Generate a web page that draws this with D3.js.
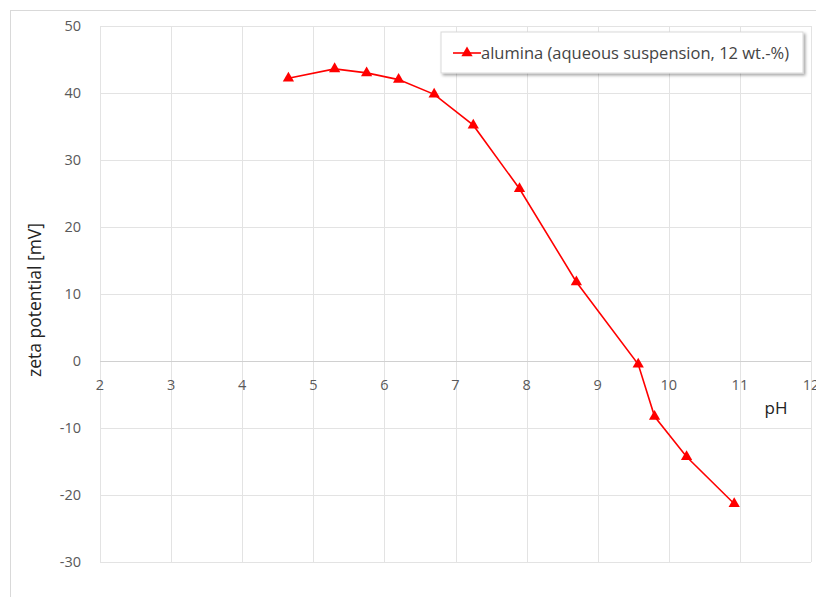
<!doctype html>
<html lang="en">
<head>
<meta charset="utf-8" />
<title>zeta potential of alumina</title>
<script src="https://d3js.org/d3.v7.min.js"></script>
<style>
  body { margin: 0; background: #fff; }
  text { font-family: "Open Sans", "Noto Sans", sans-serif; }
</style>
</head>
<body>
<svg></svg>
<script>
const pH   = [4.65, 5.3, 5.75, 6.2, 6.7, 7.25, 7.9, 8.7, 9.57, 9.8, 10.25, 10.92];
const zeta = [42.2, 43.6, 43.0, 42.0, 39.8, 35.2, 25.7, 11.8, -0.5, -8.3, -14.3, -21.3];
const xTicks = [2, 3, 4, 5, 6, 7, 8, 9, 10, 11, 12];
const yTicks = [-30, -20, -10, 0, 10, 20, 30, 40, 50];
const seriesName = "alumina (aqueous suspension, 12 wt.-%)";

let width = 816,
    height = 597;

const svg = d3.select("svg")
    .attr("width", width)
    .attr("height", height);

// chart frame
svg.append("rect")
    .attr("x", 10.5).attr("y", 10.5)
    .attr("width", width).attr("height", height)
    .attr("fill", "#fff")
    .attr("stroke", "#d9d9d9");

let x = d3.scaleLinear().domain([2, 12]).range([100, 811]);
let y = d3.scaleLinear().domain([-30, 50]).range([562, 26]);

const grid = svg.append("g");
grid.selectAll("line.v")
    .data(xTicks)
    .enter().append("line")
        .attr("x1", d => Math.round(x(d)) + 0.5).attr("x2", d => Math.round(x(d)) + 0.5)
        .attr("y1", y(50)).attr("y2", y(-30))
        .attr("stroke", "#e3e3e3");
grid.selectAll("line.h")
    .data(yTicks)
    .enter().append("line")
        .attr("x1", x(2)).attr("x2", x(12))
        .attr("y1", d => Math.round(y(d)) + 0.5).attr("y2", d => Math.round(y(d)) + 0.5)
        .attr("stroke", d => d === 0 ? "#d0d0d0" : "#e3e3e3");

// y tick labels
svg.append("g").selectAll("text")
    .data(yTicks)
    .enter().append("text")
        .attr("x", 81)
        .attr("y", d => y(d))
        .attr("dy", "0.35em")
        .attr("text-anchor", "end")
        .attr("font-size", 14.5)
        .attr("fill", "#595959")
        .text(d => d < 0 ? "-" + Math.abs(d) : d);

// x tick labels sit under the zero line
svg.append("g").selectAll("text")
    .data(xTicks)
    .enter().append("text")
        .attr("x", d => x(d))
        .attr("y", y(0) + 29)
        .attr("text-anchor", "middle")
        .attr("font-size", 14.5)
        .attr("fill", "#595959")
        .text(d => d);

// axis titles
svg.append("text")
    .attr("transform", "translate(41,300) rotate(-90)")
    .attr("text-anchor", "middle")
    .attr("font-size", 17.5)
    .attr("fill", "#222")
    .text("zeta potential [mV]");

svg.append("text")
    .attr("x", 776).attr("y", 414)
    .attr("text-anchor", "middle")
    .attr("font-size", 17)
    .attr("fill", "#222")
    .text("pH");

const data = pH.map((p, i) => [p, zeta[i]]);
const tri = d3.symbol().type(d3.symbolTriangle).size(55);

svg.append("path")
    .datum(data)
    .attr("d", d3.line().x(d => x(d[0])).y(d => y(d[1])))
    .attr("fill", "none")
    .attr("stroke", "#ff0000")
    .attr("stroke-width", 1.6);

svg.append("g").selectAll("path")
    .data(data)
    .enter().append("path")
        .attr("d", tri)
        .attr("transform", d => "translate(" + x(d[0]) + "," + y(d[1]) + ")")
        .attr("fill", "#ff0000");

// legend with drop shadow
const defs = svg.append("defs");
const f = defs.append("filter").attr("id", "shadow").attr("x", "-5%").attr("y", "-20%").attr("width", "115%").attr("height", "160%");
f.append("feDropShadow").attr("dx", 2).attr("dy", 2).attr("stdDeviation", 1.5).attr("flood-color", "#000").attr("flood-opacity", 0.35);

const lg = svg.append("g").attr("transform", "translate(441,32)");
lg.append("rect")
    .attr("width", 362).attr("height", 41)
    .attr("fill", "#fff")
    .attr("stroke", "#d9d9d9")
    .attr("filter", "url(#shadow)");
lg.append("line")
    .attr("x1", 12).attr("x2", 40).attr("y1", 21).attr("y2", 21)
    .attr("stroke", "#ff0000").attr("stroke-width", 1.6);
lg.append("path")
    .attr("d", tri)
    .attr("transform", "translate(26,21)")
    .attr("fill", "#ff0000");
lg.append("text")
    .attr("x", 40).attr("y", 21).attr("dy", "0.35em")
    .attr("font-size", 16.5)
    .attr("fill", "#444")
    .text(seriesName);
</script>
</body>
</html>
